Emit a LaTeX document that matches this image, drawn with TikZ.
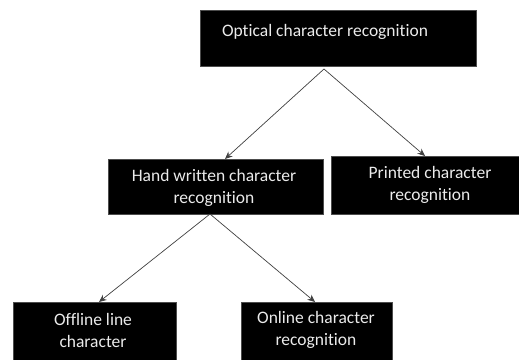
\documentclass[tikz,border=0pt]{standalone}
\usepackage{fontspec}
\setmainfont[Ligatures=NoCommon]{Carlito}
\usetikzlibrary{arrows.meta}
\begin{document}
\begin{tikzpicture}[x=1pt,y=-1pt,
  box/.style={draw=black!70,fill=black,line width=0.6pt,inner sep=0pt,anchor=north west},
  lbl/.style={text=white!92!black,font=\fontsize{17.5}{22}\selectfont,align=center,inner sep=0pt},
  conn/.style={draw=black!75,line width=0.7pt,-{Stealth[length=7.5pt,width=6.5pt]}}]
\useasboundingbox (0,0) rectangle (519,359);
% boxes
\node[box,minimum width=276pt,minimum height=56pt] (top) at (200,10) {};
\node[box,minimum width=215pt,minimum height=55pt] (hw) at (108,159) {};
\node[box,minimum width=190pt,minimum height=58pt] (pr) at (331,156) {};
\node[box,minimum width=163pt,minimum height=60pt] (off) at (13,302) {};
\node[box,minimum width=151pt,minimum height=60pt] (on) at (241,302) {};
% texts
\node[lbl] (topt) at (325,32) {Optical character recognition};
\node[lbl] (hwt) at (214,188) {Hand written character\\recognition};
\node[lbl] (prt) at (430,184.5) {Printed character\\recognition};
\node[lbl] (offt) at (93,330) {Offline line\\character};
\node[lbl] (ont) at (316,330) {Online character\\recognition};
% connector ends
\coordinate (s1) at (324,69);
\coordinate (e1) at (225,159);
\coordinate (e2) at (425,156);
\coordinate (s2) at (210,214);
\coordinate (e3) at (99,302);
\coordinate (e4) at (315,302);
\draw[conn] (s1) -- (e1);
\draw[conn] (s1) -- (e2);
\draw[conn] (s2) -- (e3);
\draw[conn] (s2) -- (e4);
\end{tikzpicture}
\end{document}
